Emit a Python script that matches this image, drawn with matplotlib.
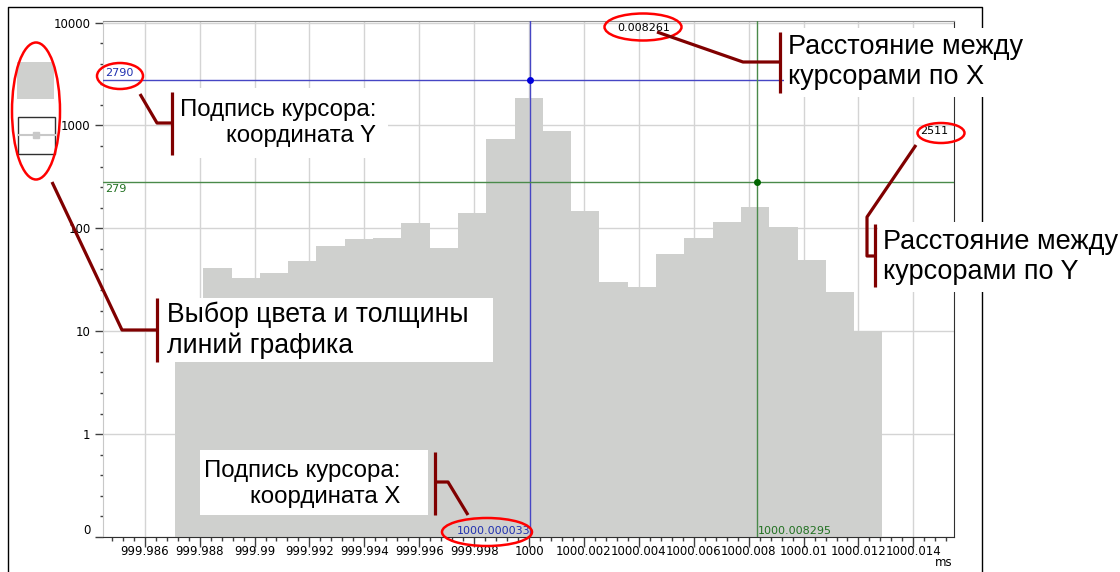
import numpy as np
import matplotlib.pyplot as plt
from matplotlib.patches import Rectangle, Ellipse
from matplotlib.transforms import blended_transform_factory

# гистограмма интервалов, мс
bin_start = 999.98710
bin_width = 0.001031
counts = [14, 41, 33, 37, 48, 68, 79, 80, 112, 65, 141, 740, 1837,
          891, 148, 30, 27, 56, 80, 116, 161, 103, 49, 24, 10]

# курсоры
cur1_x, cur1_y = 1000.0000334, 2790
cur2_x, cur2_y = 1000.0082947, 279

x_ticks = [999.986, 999.988, 999.99, 999.992, 999.994, 999.996, 999.998, 1000,
           1000.002, 1000.004, 1000.006, 1000.008, 1000.01, 1000.012, 1000.014]
y_ticks = [0, 1, 10, 100, 1000, 10000]

BAR = '#cfd0ce'
BLUE = '#4646c4'
GREEN = '#4a8a4a'
DARKRED = '#800000'
W, H = 1120, 572

edges = bin_start + bin_width * np.arange(len(counts) + 1)


def fwd(y):
    y = np.asarray(y, dtype=float)
    return np.log10(np.clip(y, 0.1, None))


def inv(t):
    return 10.0 ** np.asarray(t, dtype=float)


fig = plt.figure(figsize=(11.2, 5.72), dpi=100)
ax = fig.add_axes([103 / W, 35 / H, 851 / W, 516 / H])
ax.set_yscale('function', functions=(fwd, inv))
ax.set_axisbelow(True)

ax.bar(edges[:-1], counts, width=bin_width, align='edge', color=BAR, zorder=2)

ax.set_xlim(999.98448, 1000.01548)
ax.set_ylim(0, 10350)

ax.set_xticks(x_ticks)
ax.set_xticklabels([f"{v:.3f}".rstrip('0').rstrip('.') for v in x_ticks], fontsize=8.5)
ax.set_xticks(np.arange(999.9848, 1000.0155, 0.0004), minor=True)
ax.set_yticks(y_ticks)
ax.set_yticklabels([str(v) for v in y_ticks], fontsize=8.5)
ax.set_yticks([10 ** (d + 0.2 * k) for d in range(-1, 4) for k in range(1, 5)], minor=True)
ax.get_yticklabels()[0].set_va('bottom')

ax.tick_params(axis='x', which='major', length=7, width=1, color='#404040', pad=-1)
ax.tick_params(axis='x', which='minor', length=3, width=1, color='#404040')
ax.tick_params(axis='y', which='major', length=6, width=1, color='#404040', pad=3)
ax.tick_params(axis='y', which='minor', length=2.5, width=1, color='#404040')

ax.grid(True, which='major', color='#d4d4d4', lw=1)
ax.spines['left'].set_color('#c8c8c8')
ax.spines['top'].set_color('#909090')
ax.spines['right'].set_color('#303030')
ax.spines['bottom'].set_color('#303030')

# линии курсоров
ax.axvline(cur1_x, color=BLUE, lw=1, zorder=3)
ax.axhline(cur1_y, color=BLUE, lw=1, zorder=3)
ax.axvline(cur2_x, color=GREEN, lw=1, zorder=3)
ax.axhline(cur2_y, color=GREEN, lw=1, zorder=3)
ax.plot(cur1_x, cur1_y, 'o', color='#0000dd', ms=4, zorder=4)
ax.plot(cur2_x, cur2_y, 'o', color='#006600', ms=4, zorder=4)

ty = blended_transform_factory(ax.transAxes, ax.transData)
tx = blended_transform_factory(ax.transData, ax.transAxes)
ax.text(0.003, cur1_y * 1.04, f"{cur1_y}", transform=ty, color='#2030b0',
        fontsize=8, ha='left', va='bottom', zorder=5)
ax.text(0.003, cur2_y * 0.96, f"{cur2_y}", transform=ty, color='#207020',
        fontsize=8, ha='left', va='top', zorder=5)
ax.text(cur1_x, 0.002, f"{cur1_x:.6f}", transform=tx, color='#2030b0',
        fontsize=8, ha='right', va='bottom', zorder=5)
ax.text(cur2_x + 0.00003, 0.002, f"{cur2_x:.6f}", transform=tx, color='#207020',
        fontsize=8, ha='left', va='bottom', zorder=5)
ax.text((cur1_x + cur2_x) / 2, 0.997, f"{cur2_x - cur1_x:.6f}", transform=tx,
        color='black', fontsize=8, ha='center', va='top', zorder=5)
ax.text(0.993, np.sqrt(cur1_y * cur2_y), f"{cur1_y - cur2_y}", transform=ty,
        color='black', fontsize=8, ha='right', va='center', zorder=5)
fig.text(953 / W, 6 / H, 'ms', fontsize=8.5, ha='right', va='baseline')

# поясняющие надписи поверх окна
ov = fig.add_axes([0, 0, 1, 1], zorder=5)
ov.set_xlim(0, W)
ov.set_ylim(H, 0)
ov.axis('off')
ov.patch.set_alpha(0)

# рамка окна
ov.plot([8, 8, 982, 982], [H, 7, 7, H], color='black', lw=1)

# образец цвета и толщины линии
ov.add_patch(Rectangle((17, 62), 37, 37, facecolor=BAR, edgecolor='none'))
ov.add_patch(Rectangle((18, 117), 37, 37, facecolor='white', edgecolor='#303030', lw=1))
ov.plot([18, 55], [135, 135], color='#c8c8c8', lw=1.5)
ov.plot([36], [135], 's', color='#c8c8c8', ms=5)

for cx, cy, w, h in [(36, 111, 48, 137), (120, 76, 46, 26), (643, 27, 77, 27),
                     (941, 133, 47, 20), (487, 532, 90, 28)]:
    ov.add_patch(Ellipse((cx, cy), w, h, fill=False, edgecolor='red', lw=1.8, zorder=6))

callouts = [
    ([140, 157, 172], [94, 123, 123]),
    ([172, 172], [92, 155]),
    ([52, 122, 157], [182, 330, 330]),
    ([157, 157], [298, 362]),
    ([468, 448, 435], [515, 482, 482]),
    ([435, 435], [452, 515]),
    ([657, 743, 780], [32, 62, 62]),
    ([780, 780], [32, 93]),
    ([916, 867, 867, 875], [145, 217, 256, 256]),
    ([875, 875], [224, 287]),
]
for xs, ys in callouts:
    ov.plot(xs, ys, color=DARKRED, lw=2.3, solid_capstyle='butt', zorder=6)

notes = [
    ((173, 88, 215, 70), 376, 123, 'right', 17.3, "Подпись курсора:\nкоордината Y"),
    ((158, 298, 335, 64), 167, 330, 'left', 19.2, "Выбор цвета и толщины\nлиний графика"),
    ((200, 450, 228, 65), 400, 484, 'right', 17.3, "Подпись курсора:\nкоордината X"),
    ((784, 28, 246, 69), 788, 62, 'left', 19.5, "Расстояние между\nкурсорами по X"),
    ((878, 222, 242, 70), 883, 257, 'left', 19.5, "Расстояние между\nкурсорами по Y"),
]
for (bx, by, bw, bh), x, y, ha, size, txt in notes:
    ov.add_patch(Rectangle((bx, by), bw, bh, facecolor='white', edgecolor='none', zorder=5))
    ov.text(x, y, txt, family=['Liberation Sans', 'DejaVu Sans'], fontsize=size,
            ha=ha, va='center', multialignment=ha, zorder=6)

fig.savefig('out.png', dpi=100)
